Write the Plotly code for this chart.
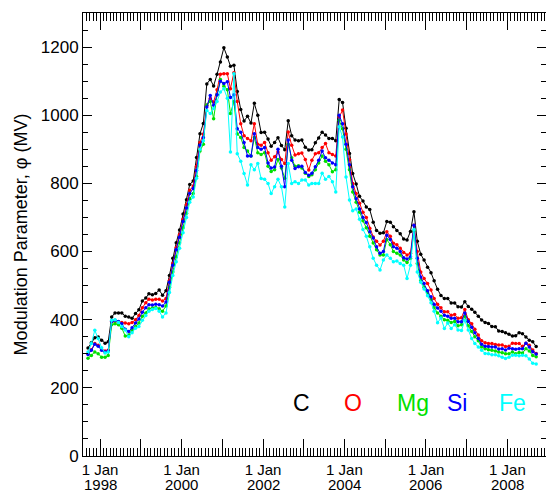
import pandas as pd
import plotly.graph_objects as go

# Monthly solar modulation parameter phi (MV) derived from each element
dates = pd.date_range("1997-09-01", periods=133, freq="MS") + pd.Timedelta(days=14)

phi_C = [
    317, 332, 347, 349, 340, 331, 335, 408, 420, 420,
    420, 410, 408, 404, 418, 429, 455, 464, 476, 473,
    477, 487, 472, 485, 530, 580, 626, 663, 710, 752,
    797, 807, 876, 946, 976, 1092, 1105, 1086, 1120, 1156,
    1198, 1171, 1144, 1147, 1070, 1017, 983, 997, 977, 1035,
    1000, 949, 950, 930, 909, 920, 934, 911, 899, 984,
    940, 927, 925, 927, 906, 898, 899, 919, 933, 950,
    942, 932, 932, 925, 1046, 1037, 962, 888, 829, 798,
    762, 748, 731, 723, 686, 662, 654, 655, 688, 686,
    673, 662, 652, 637, 634, 659, 717, 630, 592, 575,
    554, 538, 514, 489, 471, 462, 462, 449, 449, 438,
    437, 453, 439, 431, 422, 410, 399, 392, 389, 380,
    379, 367, 365, 362, 357, 352, 353, 362, 359, 349,
    340, 335, 321,
]

phi_O = [
    300, 312, 330, 325, 312, 308, 310, 395, 395, 393,
    392, 390, 388, 392, 400, 412, 435, 450, 460, 458,
    460, 460, 455, 462, 515, 565, 612, 650, 695, 738,
    780, 792, 850, 920, 945, 1029, 1049, 1039, 1075, 1120,
    1122, 1122, 1078, 1125, 1040, 975, 940, 932, 925, 975,
    915, 912, 920, 890, 868, 878, 892, 870, 858, 951,
    912, 883, 887, 889, 870, 839, 868, 887, 890, 905,
    917, 890, 885, 880, 995, 1015, 945, 870, 800, 770,
    742, 715, 700, 668, 643, 630, 619, 630, 658, 645,
    624, 620, 610, 597, 590, 595, 677, 600, 540, 521,
    506, 487, 462, 445, 435, 423, 423, 413, 415, 404,
    406, 430, 400, 388, 372, 355, 338, 332, 330, 330,
    327, 326, 326, 321, 322, 331, 330, 330, 322, 331,
    325, 311, 301,
]

phi_Mg = [
    287, 295, 305, 300, 290, 290, 295, 385, 388, 385,
    375, 352, 355, 368, 380, 390, 410, 420, 432, 434,
    436, 432, 425, 440, 495, 540, 585, 625, 670, 712,
    755, 770, 820, 895, 915, 1030, 1040, 990, 1060, 1105,
    1085, 1075, 1005, 1040, 945, 935, 905, 895, 880, 935,
    890, 885, 890, 850, 835, 840, 870, 845, 815, 915,
    875, 850, 852, 845, 830, 820, 825, 840, 860, 880,
    865, 855, 834, 840, 985, 960, 900, 840, 775, 745,
    715, 690, 670, 645, 625, 605, 590, 590, 635, 620,
    600, 595, 590, 575, 568, 580, 660, 565, 515, 495,
    478, 460, 435, 420, 410, 400, 398, 392, 395, 382,
    385, 410, 382, 365, 350, 338, 320, 315, 312, 310,
    308, 305, 303, 300, 300, 305, 300, 304, 302, 315,
    308, 295, 291,
]

phi_Si = [
    298, 310, 328, 322, 310, 305, 308, 395, 398, 395,
    388, 372, 365, 376, 390, 402, 422, 435, 444, 443,
    445, 444, 440, 452, 510, 560, 605, 642, 688, 728,
    770, 785, 838, 912, 935, 1024, 1058, 1029, 1060, 1100,
    1093, 1098, 1052, 1060, 960, 950, 920, 880, 880, 946,
    905, 900, 905, 860, 845, 848, 900, 850, 790, 927,
    868, 844, 849, 850, 832, 824, 830, 849, 868, 895,
    875, 868, 860, 855, 1000, 975, 915, 855, 790, 755,
    725, 700, 685, 658, 640, 614, 595, 600, 648, 635,
    614, 610, 600, 582, 578, 585, 677, 580, 525, 506,
    485, 467, 445, 434, 425, 413, 410, 404, 404, 394,
    394, 420, 395, 378, 362, 345, 328, 322, 321, 320,
    320, 314, 315, 311, 316, 315, 313, 315, 315, 331,
    320, 306, 299,
]

phi_Fe = [
    305, 330, 369, 345, 318, 302, 305, 398, 400, 392,
    380, 370, 350, 362, 375, 380, 398, 412, 425, 430,
    433, 425, 408, 420, 480, 530, 570, 610, 655, 700,
    745, 760, 815, 900, 925, 1014, 1005, 1020, 1040, 1068,
    1078, 1050, 892, 1122, 887, 865, 829, 795, 855, 840,
    858, 814, 812, 800, 770, 790, 812, 790, 731, 858,
    800, 805, 800, 810, 810, 795, 800, 800, 800, 830,
    812, 820, 805, 775, 966, 936, 819, 751, 720, 725,
    695, 665, 645, 614, 580, 560, 546, 575, 590, 580,
    570, 572, 565, 560, 521, 560, 665, 540, 510, 490,
    470, 450, 425, 391, 405, 374, 390, 374, 385, 370,
    368, 398, 370, 345, 330, 320, 310, 301, 300, 297,
    297, 294, 290, 286, 290, 296, 296, 294, 296, 294,
    285, 272, 270,
]

elements = ["C", "O", "Mg", "Si", "Fe"]
colors = ["#000000", "#ff0000", "#00e000", "#0000ff", "#00ffff"]
series = [phi_C, phi_O, phi_Mg, phi_Si, phi_Fe]

years = list(range(1998, 2009))
year_ticks = [f"{y}-01-01" for y in years]
day_text = ["1 Jan" if y % 2 == 0 else "" for y in years]
labelled_years = [y for y in years if y % 2 == 0]

FONT = "Liberation Sans, Arial, sans-serif"

fig = go.Figure()
for name, col, vals in zip(elements, colors, series):
    fig.add_trace(go.Scatter(
        x=dates, y=vals, name=name, mode="lines+markers",
        line=dict(color=col, width=1),
        marker=dict(color=col, size=3.5),
    ))

# element labels along the bottom of the plot
label_x = [0.472, 0.584, 0.713, 0.807, 0.928]
for name, col, lx in zip(elements, colors, label_x):
    fig.add_annotation(
        x=lx, y=0.119, xref="paper", yref="paper", text=name,
        showarrow=False, xanchor="center", yanchor="middle",
        font=dict(family=FONT, size=23, color=col),
    )

# second line of the date labels: the year under each "1 Jan"
for y in labelled_years:
    fig.add_annotation(
        x=f"{y}-01-01", y=-0.0645, xref="x", yref="paper", text=str(y),
        showarrow=False, xanchor="center", yanchor="middle",
        font=dict(family=FONT, size=15, color="black"),
    )

fig.update_layout(
    width=546, height=493,
    margin=dict(l=83, r=0, t=13, b=37),
    paper_bgcolor="white", plot_bgcolor="white",
    showlegend=False,
    font=dict(family=FONT, color="black"),
)

fig.update_xaxes(
    type="date", range=["1997-08-01", "2008-12-12"],
    tickmode="array", tickvals=year_ticks, ticktext=day_text,
    ticks="inside", ticklen=17, tickwidth=1, tickcolor="black",
    automargin=False,
    tickfont=dict(family=FONT, size=15, color="black"),
    showline=True, linecolor="black", linewidth=1, mirror="allticks",
    showgrid=False, zeroline=False,
    minor=dict(ticks="inside", ticklen=8, tickwidth=1, tickcolor="black",
               dtick="M1", tick0="1998-01-01", showgrid=False),
)

fig.update_yaxes(
    range=[0, 1300], tickmode="linear", tick0=0, dtick=200,
    ticks="inside", ticklen=9, tickwidth=1, tickcolor="black",
    tickfont=dict(family=FONT, size=17, color="black"),
    showline=True, linecolor="black", linewidth=1, mirror="allticks",
    showgrid=False, zeroline=False,
    minor=dict(ticks="inside", ticklen=5, tickwidth=1, tickcolor="black",
               dtick=50, showgrid=False),
    title=dict(text="Modulation Parameter, \u03c6 (MV)",
               font=dict(family=FONT, size=18, color="black"), standoff=8),
)

fig.write_html("out.html")
